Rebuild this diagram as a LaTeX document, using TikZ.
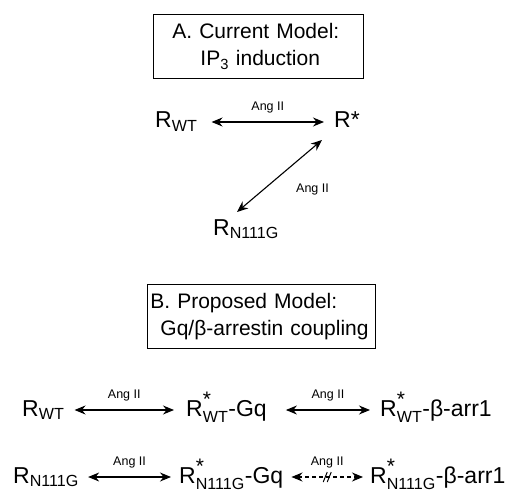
\documentclass[tikz,border=0pt]{standalone}
\usepackage{fontspec}
\setmainfont{Liberation Sans}
\usepackage{amsmath}
\usetikzlibrary{arrows.meta}
\newcommand{\Rsb}[1]{R$_{\text{#1}}$}
\newcommand{\Rss}[1]{R$^{\text{\fontsize{21}{21}\selectfont *}}_{\text{#1}}$}
\tikzset{
  lab/.style={font=\fontsize{12.5}{14}\selectfont, inner sep=0pt},
  spc/.style={font=\fontsize{23}{27}\selectfont, inner sep=0pt, anchor=base west},
  dbl/.style={{Stealth[length=11pt,width=9pt]}-{Stealth[length=11pt,width=9pt]}, line width=1.1pt},
  dsh/.style={dbl, dash pattern=on 4pt off 3pt},
  boxed/.style={draw, line width=0.9pt, font=\fontsize{21}{27}\selectfont, align=left, anchor=north west, minimum height=64pt, inner ysep=0pt}
}
\begin{document}
\begin{tikzpicture}[x=1pt,y=-1pt]
\useasboundingbox (0,0) rectangle (509,503);
% boxes
\node[boxed, text width=172pt, inner xsep=19pt] (boxA) at (153,14) {A. Current Model:\\\hspace*{28pt}IP\textsubscript{3} induction};
\node[boxed, text width=222pt, inner xsep=3pt] (boxB) at (147,284) {B. Proposed Model:\\\hspace*{10pt}Gq/β-arrestin coupling};
% section A
\node[spc] (rwt) at (155,128) {\Rsb{WT}};
\node[spc] (rst) at (334,128) {R*};
\node[spc] (rn) at (213,235) {\Rsb{N111G}};
\draw[dbl] ([shift={(14pt,6pt)}]rwt.base east) -- node[lab, above=8pt]{Ang II} ([shift={(-10pt,6pt)}]rst.base west);
\draw[dbl] ([shift={(24pt,23pt)}]rn.base west) -- node[lab, pos=0.5, xshift=33pt, yshift=-13pt]{Ang II} ([shift={(-12pt,-12pt)}]rst.base west);
% section B row 1
\node[spc] (b1) at (22,416) {\Rsb{WT}};
\node[spc] (b2) at (186,416) {\Rss{WT}-Gq};
\node[spc] (b3) at (380,416) {\Rss{WT}-β-arr1};
\draw[dbl] ([shift={(10pt,6pt)}]b1.base east) -- node[lab, above=8pt]{Ang II} ([shift={(-12pt,6pt)}]b2.base west);
\draw[dbl] ([shift={(19pt,6pt)}]b2.base east) -- node[lab, above=8pt]{Ang II} ([shift={(-10pt,6pt)}]b3.base west);
% section B row 2
\node[spc] (c1) at (13,483) {\Rsb{N111G}};
\node[spc] (c2) at (179,483) {\Rss{N111G}-Gq};
\node[spc] (c3) at (370,483) {\Rss{N111G}-β-arr1};
\draw[dbl] ([shift={(9pt,6pt)}]c1.base east) -- node[lab, above=8pt]{Ang II} ([shift={(-8pt,6pt)}]c2.base west);
\draw[dsh] ([shift={(8pt,6pt)}]c2.base east) -- node[lab, above=8pt]{Ang II} coordinate[pos=0.5] (mid) ([shift={(-7pt,6pt)}]c3.base west);
\draw[line width=1pt] ([shift={(-4pt,-5pt)}]mid) -- ([shift={(0pt,5pt)}]mid);
\draw[line width=1pt] ([shift={(0pt,-5pt)}]mid) -- ([shift={(4pt,5pt)}]mid);
\end{tikzpicture}
\end{document}
